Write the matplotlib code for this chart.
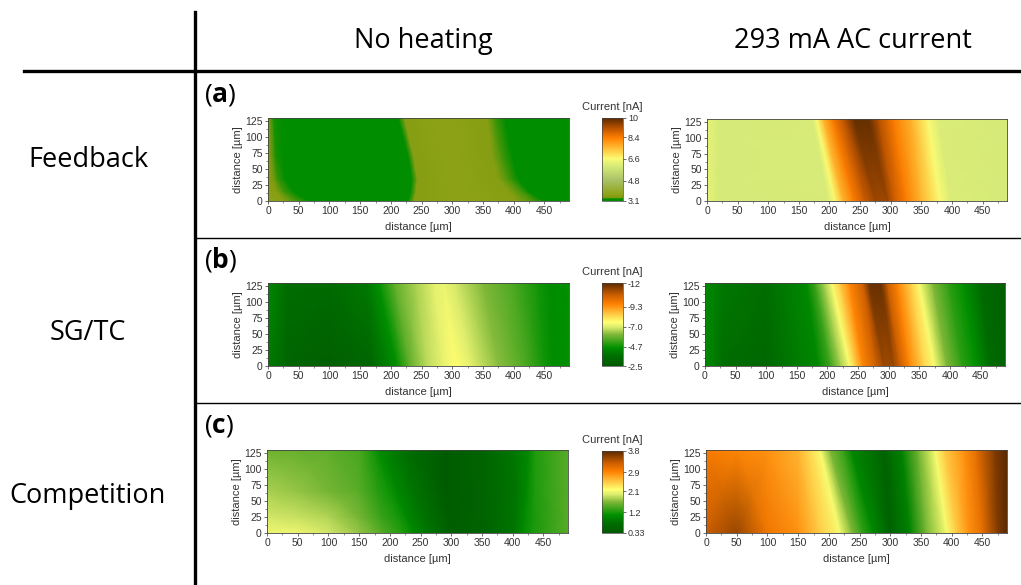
import numpy as np
import matplotlib
matplotlib.use("Agg")
import matplotlib.pyplot as plt
from matplotlib.colors import LinearSegmentedColormap, Normalize
from matplotlib.lines import Line2D
from matplotlib.ticker import MultipleLocator

W, H = 1021, 585

plt.rcParams["font.family"] = ["Liberation Sans", "DejaVu Sans"]
plt.rcParams["mathtext.fontset"] = "custom"
plt.rcParams["mathtext.rm"] = "Open Sans"
plt.rcParams["mathtext.bf"] = "Open Sans:bold"

COLUMN_TITLES = ["No heating", "293 mA AC current"]
ROW_TITLES = ["Feedback", "SG/TC", "Competition"]
PANEL_TAGS = ["a", "b", "c"]

# each map: row heights, x of every control point on each row, current there [nA]
A_LEFT_Y = [0, 15, 35, 70, 130]
A_LEFT_X = [
    [0, 25, 45, 68, 228, 238, 318, 405, 432, 450, 490],
    [0, 13, 25, 42, 232, 241, 313, 392, 412, 425, 490],
    [0, 7, 16, 28, 234, 243, 305, 375, 392, 408, 490],
    [0, 5, 13, 25, 228, 237, 297, 365, 380, 398, 490],
    [0, 5, 10, 25, 212, 222, 285, 357, 368, 386, 490],
]
A_LEFT_I = [
    [3.62, 3.52, 3.33, 3.2, 3.2, 3.5, 3.62, 3.5, 3.33, 3.2, 3.2],
    [3.56, 3.5, 3.33, 3.2, 3.2, 3.5, 3.62, 3.5, 3.33, 3.2, 3.2],
    [3.48, 3.42, 3.32, 3.2, 3.2, 3.5, 3.62, 3.5, 3.33, 3.2, 3.2],
    [3.44, 3.38, 3.3, 3.2, 3.2, 3.5, 3.62, 3.5, 3.33, 3.2, 3.2],
    [3.4, 3.35, 3.3, 3.2, 3.2, 3.5, 3.62, 3.5, 3.33, 3.2, 3.2],
]

A_RIGHT_Y = [0, 130]
A_RIGHT_X = [
    [0, 20, 198, 209, 222, 240, 258, 275, 295, 305, 325, 350, 380, 398, 490],
    [0, 20, 172, 179, 190, 205, 225, 240, 265, 280, 305, 335, 361, 378, 490],
]
A_RIGHT_I = [
    [6.3, 6.0, 6.05, 6.6, 7.6, 8.4, 9.0, 9.4, 9.4, 9.0, 8.4, 7.6, 6.6, 6.1, 6.0],
    [6.3, 6.0, 6.05, 6.6, 7.6, 8.4, 9.2, 9.9, 9.9, 9.2, 8.4, 7.6, 6.6, 6.1, 6.0],
]

B_LEFT_Y = [0, 130]
B_LEFT_X = [
    [0, 30, 100, 170, 210, 230, 260, 285, 305, 330, 375, 420, 450, 465, 490],
    [0, 30, 100, 160, 180, 205, 240, 270, 285, 305, 350, 400, 440, 460, 490],
]
B_LEFT_I = [
    [-4.0, -3.2, -2.8, -3.25, -4.6, -5.7, -6.7, -7.15, -7.55, -7.1, -6.2, -5.5, -4.8, -4.5, -4.6],
    [-4.4, -3.6, -3.45, -3.9, -4.6, -5.7, -6.5, -7.1, -7.25, -6.9, -6.1, -5.5, -4.8, -4.5, -4.6],
]

B_RIGHT_Y = [0, 130]
B_RIGHT_X = [
    [0, 30, 100, 185, 205, 222, 236, 246, 258, 280, 292, 308, 318, 334, 358, 375, 395, 420, 443, 465, 490],
    [0, 30, 100, 165, 180, 195, 207, 220, 236, 258, 268, 288, 298, 315, 338, 350, 372, 398, 421, 450, 490],
]
B_RIGHT_I = [
    [-4.4, -3.6, -3.25, -4.4, -5.35, -6.5, -7.45, -8.4, -9.55, -10.6, -11.2, -11.2, -10.6, -9.55, -8.2, -7.45, -6.1, -5.15, -4.6, -3.6, -3.0],
    [-4.4, -3.9, -3.6, -4.4, -5.35, -6.5, -7.45, -8.4, -9.55, -10.6, -11.8, -11.8, -10.6, -9.55, -8.2, -7.45, -6.1, -5.15, -4.6, -3.45, -2.8],
]

C_LEFT_Y = [0, 25, 65, 130]
C_LEFT_X = [
    [0, 50, 100, 150, 190, 222, 240, 262, 300, 355, 402, 415, 432, 490],
    [0, 50, 100, 150, 186, 212, 228, 250, 296, 354, 403, 418, 434, 490],
    [0, 50, 100, 150, 180, 198, 212, 236, 290, 352, 405, 422, 436, 490],
    [0, 50, 100, 150, 170, 182, 198, 225, 290, 350, 400, 425, 436, 490],
]
C_LEFT_I = [
    [2.07, 2.07, 1.93, 1.72, 1.44, 1.23, 1.02, 0.82, 0.43, 0.54, 0.82, 1.02, 1.2, 1.48],
    [1.93, 1.89, 1.82, 1.61, 1.34, 1.2, 1.02, 0.82, 0.4, 0.54, 0.82, 1.02, 1.2, 1.48],
    [1.79, 1.72, 1.61, 1.48, 1.27, 1.16, 1.02, 0.82, 0.36, 0.54, 0.82, 1.02, 1.23, 1.48],
    [1.58, 1.54, 1.51, 1.41, 1.23, 1.06, 0.92, 0.75, 0.36, 0.54, 0.82, 1.02, 1.23, 1.48],
]

C_RIGHT_Y = [0, 130]
C_RIGHT_X = [
    [0, 50, 100, 150, 185, 218, 238, 255, 272, 300, 332, 357, 392, 408, 428, 450, 475, 490],
    [0, 50, 100, 150, 168, 186, 202, 225, 237, 290, 319, 345, 373, 388, 420, 440, 470, 490],
]
C_RIGHT_I = [
    [3.31, 3.52, 3.04, 2.83, 2.48, 2.13, 1.65, 1.3, 1.02, 0.5, 0.95, 1.58, 2.13, 2.48, 2.83, 3.11, 3.63, 3.8],
    [2.97, 2.9, 2.83, 2.62, 2.41, 2.13, 1.65, 1.3, 1.02, 0.5, 0.95, 1.58, 2.13, 2.48, 2.83, 3.11, 3.63, 3.8],
]

BAR_TICKS = [[3.1, 4.8, 6.6, 8.4, 10], [-2.5, -4.7, -7.0, -9.3, -12], [0.33, 1.2, 2.1, 2.9, 3.8]]
BAR_LABELS = [["3.1", "4.8", "6.6", "8.4", "10"], ["-2.5", "-4.7", "-7.0", "-9.3", "-12"], ["0.33", "1.2", "2.1", "2.9", "3.8"]]
BAR_LIMITS = [(3.1, 10), (-12, -2.5), (0.33, 3.8)]

# the Feedback map has its own scale, a thin green step below olive
cmap_a = LinearSegmentedColormap.from_list("feedback", [
    (0, "#008a00"), (0.025, "#009000"), (0.04, "#809a10"), (0.08, "#8fa318"),
    (0.25, "#a9c266"), (0.42, "#d5ea78"), (0.51, "#fbfb72"), (0.62, "#ffc53c"),
    (0.76, "#ff8000"), (0.87, "#bf5500"), (1, "#5a2a00")], N=512)
cmap_std = LinearSegmentedColormap.from_list("current", [
    (0, "#005a00"), (0.12, "#006e00"), (0.22, "#009000"), (0.38, "#7fb838"),
    (0.47, "#dcec6e"), (0.53, "#ffff70"), (0.64, "#ffc03c"), (0.75, "#ff8000"),
    (0.86, "#c85c00"), (1, "#5a2a00")], N=512)
CMAPS = [cmap_a, cmap_std.reversed(), cmap_std]

MAPS = [
    [(A_LEFT_Y, A_LEFT_X, A_LEFT_I), (A_RIGHT_Y, A_RIGHT_X, A_RIGHT_I)],
    [(B_LEFT_Y, B_LEFT_X, B_LEFT_I), (B_RIGHT_Y, B_RIGHT_X, B_RIGHT_I)],
    [(C_LEFT_Y, C_LEFT_X, C_LEFT_I), (C_RIGHT_Y, C_RIGHT_X, C_RIGHT_I)],
]

# pixel boxes: left, top, right, bottom
LEFT_BOXES = [(268, 118, 569, 201), (268, 283, 569, 366), (267, 450, 568, 533)]
RIGHT_BOXES = [(707, 119, 1007, 201), (705, 283, 1005, 366), (706, 450, 1007, 533)]
BAR_BOXES = [(602, 118, 623, 201), (602, 283, 623, 366), (602, 451, 623, 533)]
TAG_Y = [95, 260, 426]
ROW_TITLE_Y = [160, 333, 496]
BAR_TITLE_Y = [107, 272, 440]

fig = plt.figure(figsize=(W / 100, H / 100), dpi=100, facecolor="white")


def add_px_axes(box):
    l, t, r, b = box
    return fig.add_axes([l / W, 1 - b / H, (r - l) / W, (b - t) / H])


def fx(x):
    return x / W


def fy(y):
    return 1 - y / H


def draw_map(box, grid, cmap, norm):
    ys, xs, vals = grid
    ax = add_px_axes(box)
    xs = np.array(xs, dtype=float)
    yy = np.repeat(np.array(ys, dtype=float)[:, None], xs.shape[1], axis=1)
    mesh = ax.pcolormesh(xs, yy, np.array(vals), cmap=cmap, norm=norm,
                         shading="gouraud", rasterized=True)
    ax.set_xlim(0, 490)
    ax.set_ylim(0, 130)
    ax.xaxis.set_major_locator(MultipleLocator(50))
    ax.xaxis.set_minor_locator(MultipleLocator(25))
    ax.yaxis.set_major_locator(MultipleLocator(25))
    ax.yaxis.set_minor_locator(MultipleLocator(12.5))
    ax.tick_params(which="major", length=2.5, width=0.5, labelsize=7.5, pad=1.2,
                   colors="#333333")
    ax.tick_params(which="minor", length=1.5, width=0.4, colors="#333333")
    ax.set_xlabel("distance [µm]", fontsize=8, color="#333333", labelpad=4.5)
    ax.set_ylabel("distance [µm]", fontsize=8, color="#333333", labelpad=2)
    for spine in ax.spines.values():
        spine.set_linewidth(0.6)
        spine.set_color("#444444")
    return mesh


for i in range(3):
    lo, hi = BAR_LIMITS[i]
    norm = Normalize(lo, hi)
    draw_map(LEFT_BOXES[i], MAPS[i][0], CMAPS[i], norm)
    mesh = draw_map(RIGHT_BOXES[i], MAPS[i][1], CMAPS[i], norm)

    cax = add_px_axes(BAR_BOXES[i])
    cb = fig.colorbar(mesh, cax=cax)
    cb.set_ticks(BAR_TICKS[i])
    cb.set_ticklabels(BAR_LABELS[i])
    cb.ax.tick_params(length=2, width=0.5, labelsize=6.5, pad=1.5, colors="#333333")
    cb.ax.minorticks_off()
    cb.outline.set_linewidth(0.5)
    cb.outline.set_edgecolor("#444444")
    if i == 1:
        cb.ax.invert_yaxis()

    fig.text(fx(612), fy(BAR_TITLE_Y[i]), "Current [nA]", fontsize=8, color="#333333",
             ha="center", va="center")
    fig.text(fx(204), fy(TAG_Y[i]), "($\\mathbf{%s}$)" % PANEL_TAGS[i], fontsize=19,
             family="Open Sans", color="black", ha="left", va="center")
    fig.text(fx(88), fy(ROW_TITLE_Y[i]), ROW_TITLES[i], fontsize=19.5, family="Open Sans",
             color="black", ha="center", va="center")

fig.text(fx(423), fy(41), COLUMN_TITLES[0], fontsize=19.5, family="Open Sans", ha="center", va="center")
fig.text(fx(853), fy(41), COLUMN_TITLES[1], fontsize=19.5, family="Open Sans", ha="center", va="center")

# table rules
fig.add_artist(Line2D([fx(195), fx(195)], [fy(12), fy(585)], color="black", lw=2.4))
fig.add_artist(Line2D([fx(24), fx(1021)], [fy(71), fy(71)], color="black", lw=2.4))
fig.add_artist(Line2D([fx(195), fx(1021)], [fy(238), fy(238)], color="black", lw=1.0))
fig.add_artist(Line2D([fx(195), fx(1021)], [fy(403), fy(403)], color="black", lw=1.0))

fig.savefig("out.png", dpi=100)
